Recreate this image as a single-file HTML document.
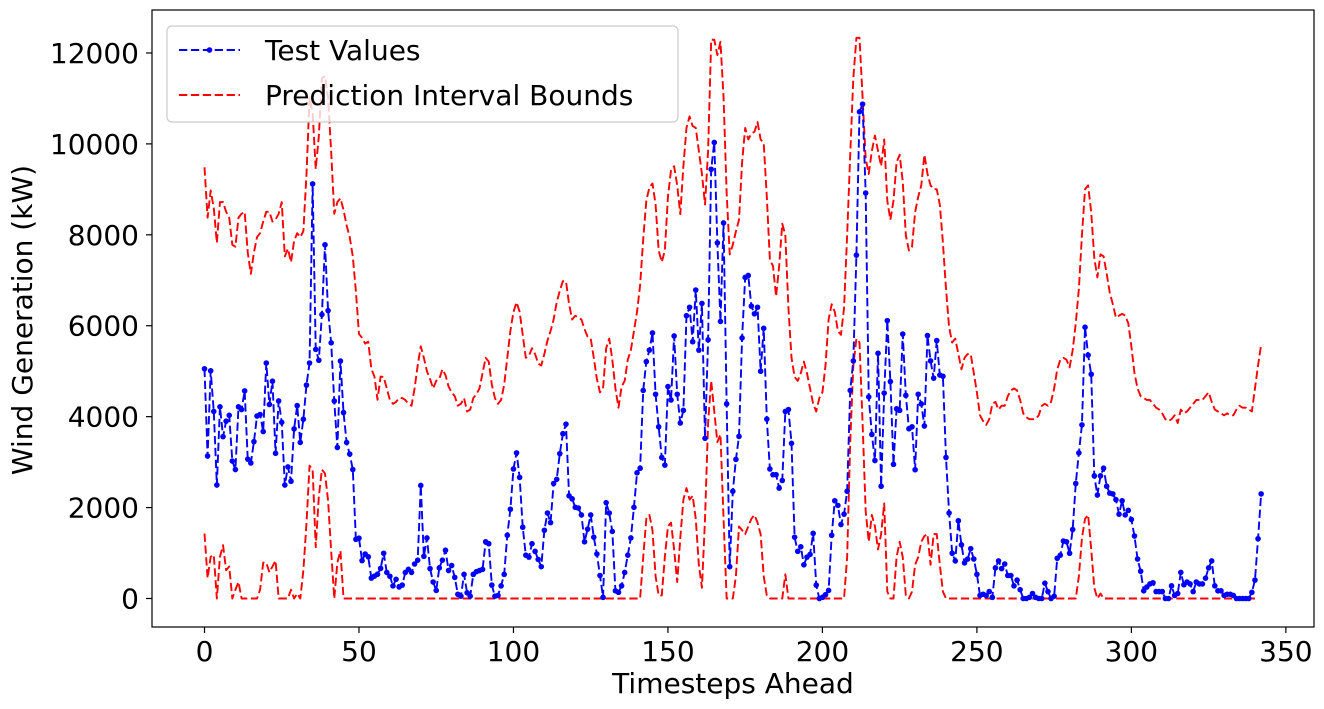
<!DOCTYPE html>
<html><head><meta charset="utf-8"><style>
html,body{margin:0;padding:0;background:#fff;}
svg{display:block;font-family:"DejaVu Sans","Liberation Sans",sans-serif;}
</style></head><body>
<svg id="chart" width="1324" height="709" viewBox="0 0 1324 709">
<rect x="0" y="0" width="1324" height="709" fill="#fff"/>
<defs><clipPath id="pc"><rect x="152" y="10" width="1162" height="617"/></clipPath></defs>
<g id="grid-ticks"></g>
<g id="series" clip-path="url(#pc)"></g>
<rect x="152" y="10" width="1162" height="617" fill="none" stroke="#000" stroke-width="1.2"/>
<text x="733" y="693" font-size="28" text-anchor="middle">Timesteps Ahead</text>
<text transform="translate(32,320) rotate(-90)" font-size="28" text-anchor="middle">Wind Generation (kW)</text>
<g>
<rect x="167" y="26" width="511" height="96" rx="5" fill="#fff" fill-opacity="0.8" stroke="#ccc" stroke-width="1.2"/>
<g>
<line x1="179" y1="50" x2="240" y2="50" stroke="#0000ff" stroke-width="1.9" stroke-dasharray="8.3,3.6"/>
<circle cx="209.5" cy="50" r="2.8" fill="#0000ff"/>
<text x="265" y="60" font-size="28">Test Values</text>
</g>
<g>
<line x1="179" y1="95" x2="240" y2="95" stroke="#ff0000" stroke-width="1.9" stroke-dasharray="8.3,3.6"/>
<text x="265" y="105" font-size="28">Prediction Interval Bounds</text>
</g>
</g>
</svg>
<script>
const xTicks = [0,50,100,150,200,250,300,350];
const yTicks = [0,2000,4000,6000,8000,10000,12000];
const testValues = [5053,3134,5010,4115,2495,4217,3560,3901,4030,3023,2836,4217,4157,4567,3066,2981,3450,4013,4047,3672,5180,4268,4780,3194,4345,3876,2495,2895,2580,3731,4243,3433,3944,4694,5180,9120,5479,5240,6246,7781,6332,5624,4345,3322,5223,4089,3433,3177,2836,1301,1327,833,978,918,449,492,534,662,
995,573,489,278,422,253,295,573,641,573,759,843,2487,927,1332,658,363,177,674,843,1062,615,725,464,93,51,531,126,51,531,590,615,641,1248,1205,295,51,67,278,531,1391,1964,2849,3203,2664,1568,953,910,1205,1037,860,700,1501,1880,1669,2529,2622,3187,3625,3836,2259,2192,2006,1989,
1838,1248,1526,1838,1349,978,506,25,2108,1880,1475,169,135,278,573,953,1332,2006,2765,2866,4577,5210,5463,5842,4493,3777,3102,2934,4662,4367,5775,4493,3861,4139,6221,6407,5648,6786,5463,6491,3524,5690,9442,10032,7823,6095,8261,4282,700,2360,3060,3566,5732,7064,7106,6432,6263,6407,4999,5943,3945,2849,2723,
2723,2428,2596,4114,4156,3414,1349,1037,1138,742,910,969,1433,295,0,25,84,177,1391,2150,2048,1627,1855,2360,4577,5227,7553,10706,10875,8919,4434,3608,3035,5395,2470,4519,6112,4771,2951,4173,4139,5817,4468,3734,3777,2833,4493,4282,3794,5783,5227,4847,5673,4915,4889,3102,1880,995,826,1711,1180,784,868,
1096,868,531,67,93,67,152,25,674,826,658,759,506,506,278,405,194,0,0,25,110,25,0,0,337,152,0,51,885,953,1265,1248,995,1517,2529,3203,3819,5968,5353,4932,2698,2276,2698,2866,2470,2318,2301,2175,1855,2150,1838,1939,1737,1374,868,599,169,253,320,346,152,152,152,0,0,
278,67,110,573,303,363,320,152,363,320,320,447,674,826,278,169,169,67,93,93,67,0,0,0,0,0,135,405,1315,2301];
const upperBound = [9486,8378,8975,8591,7824,8719,8719,8506,8378,7781,7738,8378,8463,8506,7610,7142,7610,7951,8036,8292,8506,8506,8292,8335,8463,8719,7525,7696,7397,7866,8036,7951,8079,9316,11021,10680,9444,10168,11447,11490,11021,9827,8463,8719,8804,8548,8207,7951,7525,6758,5820,5734,5607,5649,5053,4882,4371,4882,
4873,4620,4367,4282,4325,4409,4409,4367,4282,4240,4620,5125,5547,5294,4999,4830,4620,4788,4830,5041,4915,4662,4535,4451,4240,4282,4409,4114,4156,4409,4493,4620,4957,5294,5210,4704,4409,4282,4367,4704,5294,5884,6306,6516,6306,5800,5294,5336,5505,5378,5168,5125,5378,5673,5884,6137,6516,6769,6980,6980,6474,6137,6221,6179,
6137,5926,5758,5716,5294,4830,4535,4620,5505,5716,5252,4620,4198,4662,4788,5252,5463,5884,6306,6896,7907,8750,9045,9130,8666,7654,7402,7654,8835,9425,9509,9088,8455,9509,10352,10605,10394,10352,9846,9340,8666,9846,12291,12291,11954,12249,11026,8919,7570,7781,8076,8329,9593,10352,10099,10226,10268,10479,10099,10015,8835,7444,7317,
6643,7317,8245,7992,6390,5294,4873,4788,4957,5210,4957,4620,4282,4114,4409,4535,5125,6137,6474,6306,5884,5800,6390,7992,9762,11448,12333,12333,11026,9678,9340,9846,10183,9846,9509,10099,8750,8329,8750,9593,9762,9172,7992,7654,7739,8497,8835,9088,9762,9340,9088,9003,9003,8666,7823,6812,5968,5631,5716,5378,5041,5294,5378,
5378,4957,4535,4030,3903,3819,3945,4282,4325,4156,4240,4240,4451,4577,4620,4577,4367,4072,3987,3945,3945,3945,4030,4240,4282,4240,4325,4620,5041,5252,5294,5252,5083,5463,6053,6811,7992,9003,9088,8497,7486,7064,7570,7528,7149,6727,6474,6179,6221,6263,6221,6053,5547,4957,4620,4451,4409,4367,4367,4282,4198,4156,4072,3945,3903,
3945,4030,3861,4156,4072,4114,4198,4282,4367,4367,4367,4451,4535,4325,4156,4114,4072,4030,4072,4030,4030,4156,4240,4198,4198,4156,4114,4620,5125,5589];
const lowerBound = [1429,449,918,960,0,918,1173,620,705,0,193,364,0,0,0,0,0,0,193,790,790,577,705,833,0,0,0,0,193,0,108,0,620,1642,2921,2836,1130,2239,2836,2751,2154,1045,0,790,1045,0,0,0,0,0,0,0,0,0,0,0,0,0,
0,0,0,0,0,0,0,0,0,0,0,0,0,0,0,0,0,0,0,0,0,0,0,0,0,0,0,0,0,0,0,0,0,0,0,0,0,0,0,0,0,0,0,0,0,0,0,0,0,0,0,0,0,0,0,0,0,0,0,0,0,0,0,0,
0,0,0,0,0,0,0,0,0,0,0,0,0,0,0,0,0,0,0,0,910,1753,1838,1501,489,67,67,910,1585,1669,1079,363,1332,2175,2428,2175,2259,1753,742,236,1753,3861,4788,4114,3439,3608,1753,0,0,0,489,1585,1501,1416,1585,1753,1838,1669,1416,489,67,0,0,
0,0,0,531,0,0,0,0,0,0,0,0,0,0,0,0,0,0,0,0,0,0,0,910,3439,5125,5716,5631,3861,1922,1248,1838,1585,1079,1416,2091,152,0,0,910,1248,910,67,0,152,742,910,1248,1374,1416,742,1416,1416,742,152,0,0,0,0,0,0,0,0,
0,0,0,0,0,0,0,0,0,0,0,0,0,0,0,0,0,0,0,0,0,0,0,0,0,0,0,0,0,0,0,0,0,0,0,489,1332,1753,1838,1079,236,0,110,0,0,0,0,0,0,0,0,0,0,0,0,0,0,0,0,0,0,0,0,
0,0,0,0,0,0,0,0,0,0,0,0,0,0,0,0,0,0,0,0,0,0,0,0,0,0,0,0,0,0];

const NS = "http://www.w3.org/2000/svg";
function xs(u){ return 204.5 + u * 3.0896; }
function ys(v){ return 598.5 - v * 0.04546; }
const ticksG = document.getElementById('grid-ticks');
const seriesG = document.getElementById('series');

xTicks.forEach(t => {
  const l = document.createElementNS(NS,'line');
  l.setAttribute('x1', xs(t)); l.setAttribute('x2', xs(t));
  l.setAttribute('y1', 627); l.setAttribute('y2', 633);
  l.setAttribute('stroke','#000'); l.setAttribute('stroke-width','1.2');
  
  
  ticksG.appendChild(l);
  const tx = document.createElementNS(NS,'text');
  tx.setAttribute('x', xs(t)); tx.setAttribute('y', 661);
  tx.setAttribute('font-size','28'); tx.setAttribute('text-anchor','middle');
  tx.textContent = String(t);
  
  
  ticksG.appendChild(tx);
});
yTicks.forEach(t => {
  const l = document.createElementNS(NS,'line');
  l.setAttribute('x1', 146); l.setAttribute('x2', 152);
  l.setAttribute('y1', ys(t)); l.setAttribute('y2', ys(t));
  l.setAttribute('stroke','#000'); l.setAttribute('stroke-width','1.2');
  
  
  ticksG.appendChild(l);
  const tx = document.createElementNS(NS,'text');
  tx.setAttribute('x', 139); tx.setAttribute('y', ys(t) + 10);
  tx.setAttribute('font-size','28'); tx.setAttribute('text-anchor','end');
  tx.textContent = String(t);
  
  
  ticksG.appendChild(tx);
});

function drawLine(arr, color, name){
  const p = document.createElementNS(NS,'path');
  let d = '';
  arr.forEach((v,i) => { d += (i ? 'L' : 'M') + xs(i).toFixed(2) + ',' + ys(v).toFixed(2); });
  p.setAttribute('d', d);
  p.setAttribute('fill','none'); p.setAttribute('stroke', color);
  p.setAttribute('stroke-width','1.9'); p.setAttribute('stroke-dasharray','8.3,3.6');
  p.setAttribute('stroke-linejoin','round');
  
  
  seriesG.appendChild(p);
}
drawLine(upperBound, '#ff0000', 'upper-bound-line');
drawLine(lowerBound, '#ff0000', 'lower-bound-line');
drawLine(testValues, '#0000ff', 'test-values-line');
testValues.forEach((v,i) => {
  const c = document.createElementNS(NS,'circle');
  c.setAttribute('cx', xs(i).toFixed(2)); c.setAttribute('cy', ys(v).toFixed(2));
  c.setAttribute('r','2.8'); c.setAttribute('fill','#0000ff');
  
  
  seriesG.appendChild(c);
});
</script>
</body></html>
